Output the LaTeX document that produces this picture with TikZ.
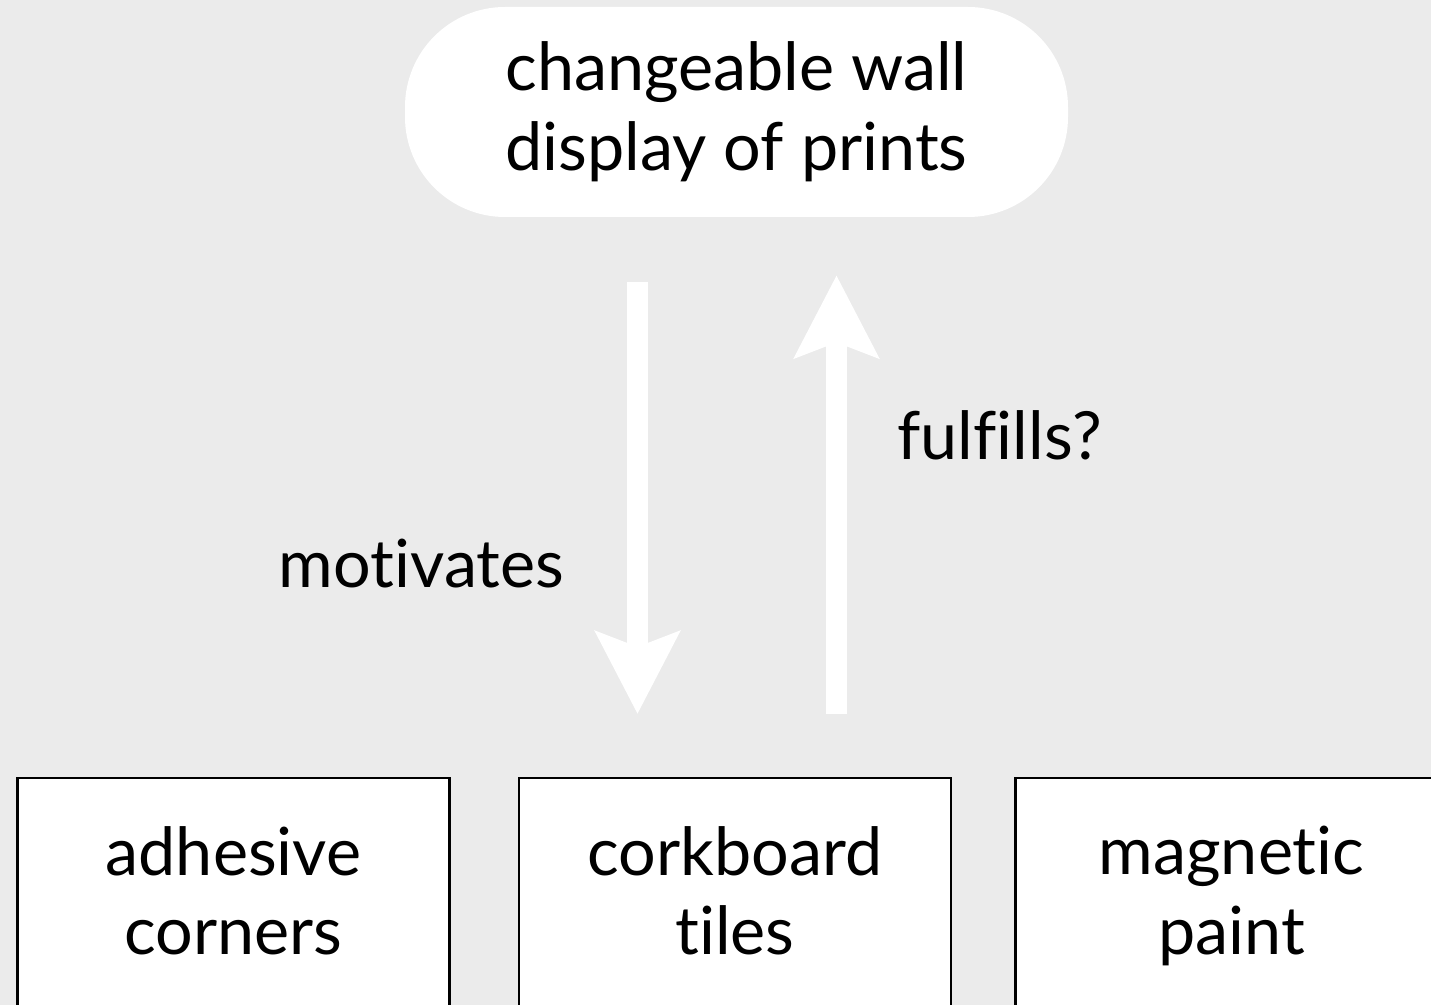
\documentclass[tikz,border=0pt]{standalone}
\usepackage{fontspec}
\setmainfont{Lato}[Ligatures=NoCommon]
\usetikzlibrary{arrows.meta}

\begin{document}
\begin{tikzpicture}[
    idea/.style={fill=white, rounded corners=2cm, minimum width=13.26cm, minimum height=4.2cm, align=center, font=\fontsize{37.8}{45.5}\selectfont},
    option/.style={draw, fill=white, line width=1.2pt, anchor=north, minimum width=8.64cm, minimum height=5.2cm, text depth=0.7cm, align=center, font=\fontsize{37.8}{45.5}\selectfont},
    bigarrow/.style={draw=white, line width=0.42cm, -{Stealth[length=1.64cm, width=1.66cm, inset=0.3cm]}, white},
    tag/.style={anchor=base, font=\fontsize{37.8}{45.5}\selectfont}
]
    % Background
    \fill[black!8] (0,0) rectangle (28.62,-20.1);
    \clip (0,0) rectangle (28.62,-20.1);

    % Draw nodes
    \node[idea] (wall) at (14.73,-2.24) {changeable wall\\display of prints};
    \node[option] (adhesive) at (4.67,-15.54) {adhesive\\corners};
    \node[option] (cork) at (14.7,-15.54) {corkboard\\tiles};
    \node[option] (magnet) at (24.63,-15.54) {magnetic\\paint};

    % Draw connections
    \draw[bigarrow, shorten <=1.3cm, shorten >=1.26cm] ([xshift=-1.98cm]wall.south) -- ([xshift=-1.98cm]wall.south |- cork.north);
    \draw[bigarrow, shorten <=1.26cm, shorten >=1.16cm] ([xshift=2cm]wall.south |- cork.north) -- ([xshift=2cm]wall.south);

    % Labels
    \node[tag] (motivates) at (8.43,-11.76) {motivates};
    \node[tag] (fulfills) at (19.99,-9.2) {fulfills?};
\end{tikzpicture}
\end{document}
